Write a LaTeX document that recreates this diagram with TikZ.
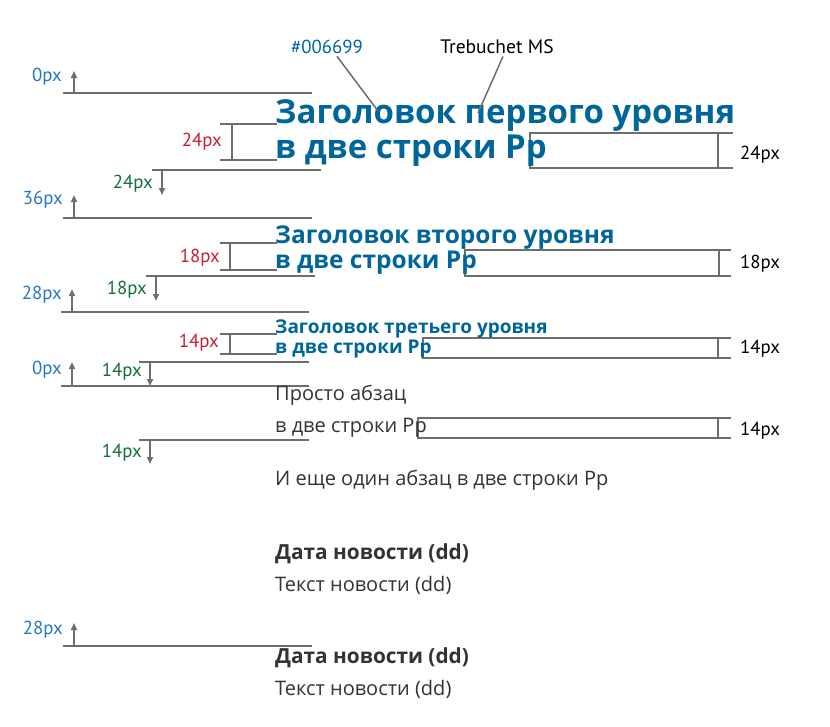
\documentclass[tikz,border=0pt]{standalone}
\usepackage{fontspec}
\setmainfont{PT Sans}
\newfontfamily\hfont{Open Sans}
\usetikzlibrary{arrows.meta}
\definecolor{hblue}{HTML}{006699}
\definecolor{lblue}{RGB}{38,120,190}
\definecolor{lred}{RGB}{200,30,50}
\definecolor{lgreen}{RGB}{20,110,60}
\definecolor{lgray}{RGB}{110,110,110}
\definecolor{txt}{RGB}{51,51,51}
\tikzset{
  dim/.style={draw=lgray,line width=1.7pt},
  darr/.style={draw=lgray,line width=1.7pt,-{Triangle[length=7pt,width=6pt]}},
  lab/.style={inner sep=0pt,anchor=east,font=\fontsize{18.8}{18.8}\selectfont},
  rlab/.style={inner sep=0pt,anchor=west,font=\fontsize{18.8}{18.8}\selectfont,text=black},
  tx/.style={inner sep=0pt,anchor=base west},
  hone/.style={tx,text=hblue,font=\hfont\bfseries\fontsize{33}{33}\selectfont},
  htwo/.style={tx,text=hblue,font=\hfont\bfseries\fontsize{24.5}{24.5}\selectfont},
  hthree/.style={tx,text=hblue,font=\hfont\bfseries\fontsize{19}{19}\selectfont},
  body/.style={tx,text=txt,font=\hfont\fontsize{20}{20}\selectfont},
  bodyb/.style={tx,text=txt,font=\hfont\bfseries\fontsize{20.8}{20.8}\selectfont},
  leader/.style={draw=lgray,line width=1.5pt}
}
\begin{document}
\begin{tikzpicture}[x=1pt,y=-1pt]
\useasboundingbox[fill=white] (0,0) rectangle (830,726);

% dimension lines (left)
\draw[dim] (63,93) -- (312,93);
\draw[dim] (152,170) -- (321,170);
\draw[dim] (63,218) -- (312,218);
\draw[dim] (146,276) -- (315,276);
\draw[dim] (61,312) -- (309,312);
\draw[dim] (139,362) -- (309,362);
\draw[dim] (61,386) -- (309,386);
\draw[dim] (139,440) -- (309,440);
\draw[dim] (63,646) -- (312,646);

% arrows
\draw[darr] (74,93) -- (74,71);
\draw[darr] (162,170) -- (162,195);
\draw[darr] (74,218) -- (74,195);
\draw[darr] (156,276) -- (156,301);
\draw[darr] (72,312) -- (72,289);
\draw[darr] (150,362) -- (150,386);
\draw[darr] (72,386) -- (72,362);
\draw[darr] (150,440) -- (150,464);
\draw[darr] (74,646) -- (74,623);

% red brackets
\draw[dim] (220,124) -- (277,124) (220,160) -- (277,160) (232,124) -- (232,160);
\draw[dim] (220,243) -- (277,243) (220,270) -- (277,270) (230,243) -- (230,270);
\draw[dim] (220,334) -- (277,334) (220,354) -- (277,354) (230,334) -- (230,354);

% right boxes
\draw[dim] (733,133) -- (530,133) -- (530,168) -- (733,168) (718,133) -- (718,168);
\draw[dim] (731,250) -- (465,250) -- (465,276) -- (731,276) (719,250) -- (719,276);
\draw[dim] (731,338) -- (423,338) -- (423,358) -- (731,358) (718,338) -- (718,358);
\draw[dim] (731,418) -- (418,418) -- (418,438) -- (731,438) (718,418) -- (718,438);

% left labels
\node[lab,text=lblue] (l0a) at (62,77) {0px};
\node[lab,text=lred] (r24) at (222,142) {24px};
\node[lab,text=lgreen] (g24) at (153,184) {24px};
\node[lab,text=lblue] (l36) at (63,200) {36px};
\node[lab,text=lred] (r18) at (220,258) {18px};
\node[lab,text=lgreen] (g18) at (147,290) {18px};
\node[lab,text=lblue] (l28a) at (62,295) {28px};
\node[lab,text=lred] (r14) at (219,343) {14px};
\node[lab,text=lgreen] (g14a) at (142,372) {14px};
\node[lab,text=lblue] (l0b) at (62,370) {0px};
\node[lab,text=lgreen] (g14b) at (142,453) {14px};
\node[lab,text=lblue] (l28b) at (63,630) {28px};

% right labels
\node[rlab] (b24) at (740,155) {24px};
\node[rlab] (b18) at (740,264) {18px};
\node[rlab] (b14a) at (740,349) {14px};
\node[rlab] (b14b) at (740,431) {14px};

% texts
\node[hone] (h1a) at (275,123) {Заголовок первого уровня};
\node[hone] (h1b) at (275,158) {в две строки Рр};
\node[htwo] (h2a) at (275,243) {Заголовок второго уровня};
\node[htwo] (h2b) at (275,268) {в две строки Рр};
\node[hthree] (h3a) at (275,333) {Заголовок третьего уровня};
\node[hthree] (h3b) at (275,353) {в две строки Рр};
\node[body] (p1a) at (275,400) {Просто абзац};
\node[body] (p1b) at (275,432) {в две строки Рр};
\node[body] (p2) at (275,485) {И еще один абзац в две строки Рр};
\node[bodyb] (n1d) at (275,559) {Дата новости (dd)};
\node[body] (n1t) at (275,591) {Текст новости (dd)};
\node[bodyb] (n2d) at (275,663) {Дата новости (dd)};
\node[body] (n2t) at (275,695) {Текст новости (dd)};

% annotations
\node[inner sep=0pt,anchor=base,text=hblue,font=\fontsize{18.8}{18.8}\selectfont] (hex) at (327,53) {\#006699};
\node[inner sep=0pt,anchor=base,text=black,font=\fontsize{19.5}{19.5}\selectfont] (tms) at (497,53) {Trebuchet MS};
\coordinate (hexend) at (378,111);
\coordinate (tmsend) at (478,113);
\draw[leader] (hex.south) ++(10,3) -- (hexend);
\draw[leader] (tms.south) ++(6,3) -- (tmsend);
\end{tikzpicture}
\end{document}
